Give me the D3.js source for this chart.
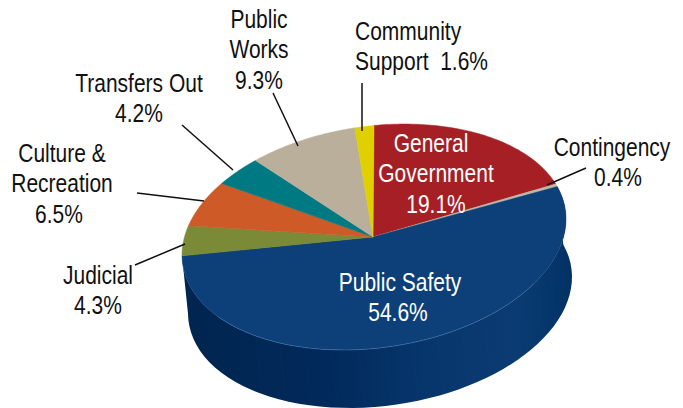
<!DOCTYPE html>
<html>
<head>
<meta charset="utf-8">
<style>
html,body{margin:0;padding:0;background:#fff;}
svg{display:block;}
text{font-family:"Liberation Sans",Arial,sans-serif;font-size:25px;}
</style>
<script src="https://cdn.jsdelivr.net/npm/d3@7/dist/d3.min.js"></script>
</head>
<body>
<script>
// General fund expenditure shares, clockwise from twelve o'clock.
const categories = ["General Government","Contingency","Public Safety","Judicial","Culture & Recreation","Transfers Out","Public Works","Community Support"];
const shares = [19.1,0.4,54.6,4.3,6.5,4.2,9.3,1.6];
const colors = ["#A61F24","#BDB7A8","#0D3F78","#7A8A37","#CD5A27","#007A82","#B9AF9A","#E0D000"];
const labelLines = [["General","Government","19.1%"],["Contingency","0.4%"],["Public Safety","54.6%"],["Judicial","4.3%"],["Culture &","Recreation","6.5%"],["Transfers Out","4.2%"],["Public","Works","9.3%"],["Community","Support  1.6%"]];
const labelInk = ["#fff","#111","#fff","#111","#111","#111","#111","#111"];
const labelAlign = ["middle","middle","middle","middle","middle","middle","middle","start"];
const labelSpots = [[431,152],[612,156],[400,291],[98,284],[62,162],[139,92],[259,28],[355,40]];
const lineNudges = [[0,5,5],[0,6],[0,-2],[0,0],[0,0,-3],[0,0],[0,0,0],[0,0]];
const leaders = [null,[[586,168],[547,185]],null,[[135,265],[185,244]],[[137,193],[204,201]],[[182,125],[233,170]],[[273,93],[298,146]],[[362,83],[362,131]]];

const W = 683, H = 408;
const apex = {x:373, y:237};      // where the slices meet
const faceShift = 1;              // the disc sits a touch right of the meeting point
const rx = 192, ry = 111.5;       // top face radii
const lean = 18;                  // right side of the disc rises, left side drops
const wall = {dx:6, dy:58};       // offset of the base from the top face
const squeeze = 0.84;             // narrow letterforms

const svg = d3.select("body").append("svg").attr("width",W).attr("height",H);

const slices = d3.pie().sort(null).value(d => d)(shares);

// Tilted-disc view: the projected disc leans, and angles drift slightly toward the sides.
const rad = Math.PI/180;
const warp = a => { const s = Math.sin(a); return a + 2.8*s*s*rad; };
const rim = (a, off) => {
  const t = warp(a);
  return [apex.x + faceShift + (off?wall.dx:0) + rx*Math.sin(t),
          apex.y + (off?wall.dy:0) - ry*Math.cos(t) - lean*Math.sin(t)];
};
const steps = (a0,a1) => d3.range(0,61).map(i => a0 + (a1-a0)*i/60);

// Side wall gradient
const grad = svg.append("defs").append("linearGradient").attr("id","wallShade")
  .attr("gradientUnits","userSpaceOnUse").attr("x1",185).attr("x2",575).attr("y1",0).attr("y2",0);
[[0,"#00254F"],[0.35,"#01295A"],[0.62,"#07366C"],[0.85,"#0A3B72"],[0.95,"#04356A"],[1,"#02305F"]]
  .forEach(([o,c]) => grad.append("stop").attr("offset",o).attr("stop-color",c));

const line = d3.line();
const safety = slices[2];

svg.append("path")
  .attr("d", line([...steps(safety.startAngle,safety.endAngle).map(a=>rim(a,false)),
                   ...steps(safety.endAngle,safety.startAngle).map(a=>rim(a,true))])+"Z")
  .attr("fill","url(#wallShade)");

// Faint seams along the wall
svg.append("g").selectAll("path").data(d3.range(14).map(i=>Math.PI*(0.62+i*0.045)))
  .join("path")
  .attr("d",a=>line([rim(a,false),rim(a,true)]))
  .attr("stroke","#2A5A90").attr("stroke-opacity",0.08).attr("stroke-width",1).attr("fill","none");

// Top face
svg.append("g").selectAll("path").data(slices).join("path")
  .attr("d",d=>line([[apex.x,apex.y],...steps(d.startAngle,d.endAngle).map(a=>rim(a,false))])+"Z")
  .attr("fill",(d,i)=>colors[i])
  .attr("stroke",(d,i)=>colors[i]).attr("stroke-width",0.5);

// Light edge where the top face meets the wall
svg.append("path")
  .attr("d",line(steps(safety.startAngle+0.9,safety.endAngle-0.6).map(a=>rim(a,false))))
  .attr("fill","none").attr("stroke","#5F8FC0").attr("stroke-opacity",0.55).attr("stroke-width",0.7);

// Leader lines
svg.append("g").selectAll("path").data(leaders.filter(Boolean)).join("path")
  .attr("d",d=>line(d)).attr("stroke","#111").attr("stroke-width",1.5).attr("fill","none");

// Labels
const lineHeight = 30.5;
const lab = svg.append("g").selectAll("g").data(categories).join("g")
  .attr("transform",(d,i)=>`translate(${labelSpots[i][0]},${labelSpots[i][1]}) scale(${squeeze},1)`)
  .attr("fill",(d,i)=>labelInk[i]).attr("text-anchor",(d,i)=>labelAlign[i]);
lab.each(function(d,i){
  d3.select(this).selectAll("text").data(labelLines[i]).join("text")
    .attr("x",(t,k)=>lineNudges[i][k]/squeeze)
    .attr("y",(t,k)=>k*lineHeight)
    .style("white-space","pre").text(t=>t);
});
</script>
</body>
</html>
